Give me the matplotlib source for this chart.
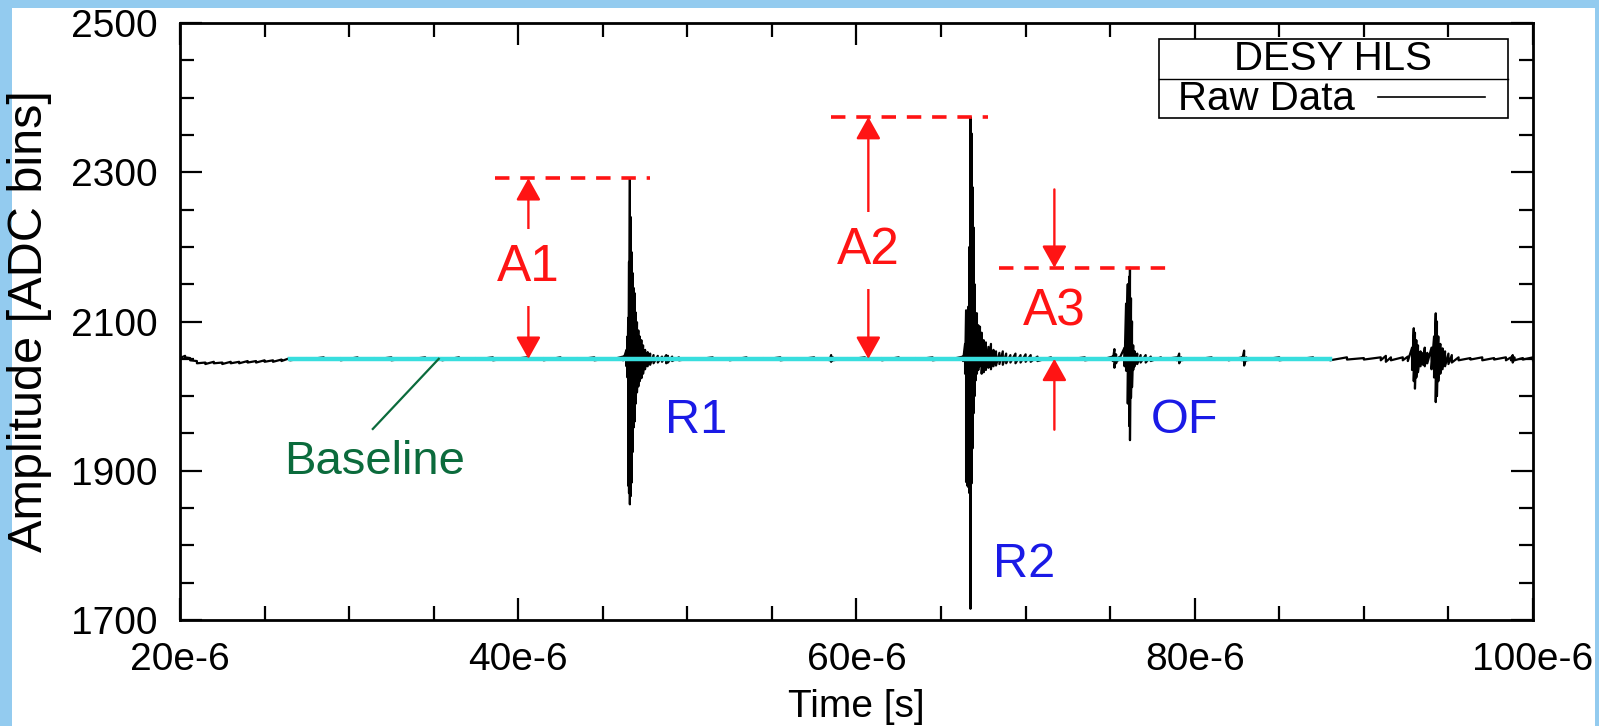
import numpy as np
import matplotlib
matplotlib.use('Agg')
import matplotlib.pyplot as plt
from matplotlib.patches import Rectangle
from matplotlib.lines import Line2D

plt.rcParams['font.family'] = ['Liberation Sans', 'DejaVu Sans']

## raw trace: (time [us], max, min) per sample
lead = [(20.0, 2053, 2051), (20.3, 2054, 2052), (20.6, 2051, 2048), (21.0, 2047, 2044),
        (21.5, 2045, 2043), (22.0, 2046, 2044), (22.5, 2045, 2043), (23.0, 2046, 2044),
        (23.5, 2046, 2044), (24.0, 2047, 2045), (24.5, 2047, 2045), (25.0, 2048, 2046),
        (25.5, 2048, 2046), (26.0, 2049, 2047)]
quiet1 = [(26.5, 2051, 2048), (27.5, 2051, 2049), (28.5, 2052, 2049), (29.5, 2051, 2048),
          (30.5, 2052, 2049), (31.5, 2051, 2049), (32.5, 2052, 2048), (33.5, 2051, 2049),
          (34.5, 2052, 2049), (35.5, 2051, 2048), (36.5, 2052, 2049), (37.5, 2051, 2049),
          (38.5, 2052, 2048), (39.5, 2051, 2049), (40.5, 2052, 2049), (41.5, 2051, 2048),
          (42.5, 2052, 2049), (43.5, 2051, 2049), (44.5, 2052, 2048), (45.5, 2051, 2049),
          (46.2, 2053, 2048)]
r1 = [(46.40, 2062, 2040), (46.46, 2080, 2025), (46.50, 2105, 1880), (46.55, 2180, 1870),
      (46.60, 2292, 1855), (46.65, 2240, 1866), (46.70, 2193, 1884), (46.76, 2165, 1925),
      (46.82, 2145, 1958), (46.88, 2138, 1966), (46.95, 2112, 1990), (47.02, 2099, 2005),
      (47.10, 2088, 2013), (47.18, 2080, 2020), (47.28, 2075, 2024), (47.38, 2068, 2030),
      (47.50, 2062, 2036), (47.65, 2059, 2040), (47.80, 2057, 2042), (48.00, 2055, 2044),
      (48.25, 2054, 2045), (48.50, 2053, 2046), (48.75, 2055, 2044), (48.85, 2054, 2045),
      (49.10, 2053, 2047), (49.50, 2052, 2048)]
quiet2 = [(50.5, 2051, 2049), (51.5, 2052, 2049), (52.5, 2051, 2048), (53.5, 2052, 2049),
          (54.5, 2051, 2049), (55.5, 2052, 2048), (56.5, 2051, 2049), (57.5, 2052, 2049),
          (58.4, 2051, 2048), (58.5, 2055, 2046), (58.6, 2052, 2048), (59.5, 2051, 2049),
          (60.5, 2052, 2049), (61.5, 2051, 2048), (62.5, 2052, 2049), (63.5, 2051, 2049),
          (64.5, 2052, 2048), (65.5, 2051, 2049), (66.3, 2053, 2047)]
r2 = [(66.42, 2070, 2030), (66.48, 2115, 1885), (66.55, 2110, 1880), (66.62, 2120, 1878),
      (66.68, 2200, 1870), (66.74, 2374, 1715), (66.80, 2352, 1883), (66.86, 2280, 1930),
      (66.92, 2226, 1977), (66.98, 2150, 2000), (67.04, 2111, 2021), (67.12, 2111, 2030),
      (67.20, 2095, 2035), (67.30, 2093, 2040), (67.40, 2085, 2030), (67.52, 2075, 2032),
      (67.65, 2072, 2035), (67.80, 2066, 2038), (67.95, 2070, 2036), (68.10, 2062, 2040),
      (68.25, 2060, 2041), (68.45, 2058, 2043), (68.65, 2060, 2042), (68.85, 2057, 2044),
      (69.10, 2055, 2045), (69.40, 2057, 2044), (69.70, 2055, 2045), (70.00, 2056, 2046),
      (70.30, 2055, 2046), (70.70, 2053, 2047)]
mid = [(71.5, 2052, 2049), (72.5, 2051, 2049), (73.5, 2052, 2048), (74.5, 2051, 2049),
       (75.15, 2053, 2047), (75.25, 2063, 2038), (75.35, 2056, 2044), (75.5, 2052, 2048)]
of = [(75.85, 2065, 2040), (75.94, 2124, 2034), (76.04, 2150, 1990), (76.12, 2160, 1960),
      (76.17, 2172, 1941), (76.23, 2131, 1998), (76.29, 2100, 2012), (76.36, 2068, 2035),
      (76.45, 2060, 2040), (76.60, 2057, 2043), (76.80, 2055, 2045), (77.10, 2055, 2045),
      (77.40, 2053, 2047)]
quiet3 = [(78.0, 2052, 2049), (78.95, 2052, 2048), (79.08, 2057, 2044), (79.2, 2052, 2048),
          (80.0, 2051, 2049), (81.0, 2052, 2049), (82.0, 2051, 2048), (82.8, 2052, 2048),
          (82.92, 2061, 2041), (83.05, 2052, 2048), (84.0, 2051, 2049), (85.0, 2052, 2048),
          (86.0, 2051, 2049), (87.0, 2052, 2049), (88.0, 2051, 2048), (89.0, 2052, 2049),
          (90.0, 2051, 2049), (91.0, 2052, 2048), (91.3, 2054, 2046), (91.6, 2052, 2048),
          (92.3, 2052, 2048), (92.6, 2053, 2047)]
far = [(92.85, 2065, 2035), (92.95, 2091, 2020), (93.02, 2085, 2010), (93.10, 2075, 2025),
       (93.20, 2068, 2032), (93.35, 2060, 2040), (93.50, 2058, 2042), (93.60, 2065, 2040),
       (93.75, 2058, 2044), (94.00, 2065, 2036), (94.15, 2080, 2025), (94.25, 2111, 1992),
       (94.32, 2100, 2000), (94.40, 2080, 2020), (94.52, 2070, 2030), (94.65, 2064, 2036),
       (94.80, 2060, 2040), (95.00, 2057, 2043), (95.20, 2055, 2045)]
tail = [(95.6, 2052, 2048), (96.3, 2051, 2049), (97.0, 2052, 2048), (97.7, 2051, 2049),
        (98.4, 2052, 2048), (98.7, 2052, 2048), (98.8, 2055, 2045), (98.9, 2052, 2048),
        (99.4, 2051, 2049), (100.0, 2052, 2048)]

baseline_level = 2050
baseline_span = (26.5, 88.0)  # us

amp_names = ['A1', 'A2', 'A3']
amp_levels = [2292, 2374, 2172]
amp_spans = [(38.6, 47.8), (58.5, 67.8), (68.4, 78.7)]
amp_arrow_x = [40.6, 60.7, 71.7]
amp_label_y = [2172, 2195, 2113]

peak_names = ['R1', 'R2', 'OF']
peak_pos = [(50.5, 1968), (69.9, 1774), (79.4, 1968)]

xtick_vals = [20, 40, 60, 80, 100]
xtick_labels = ['20e-6', '40e-6', '60e-6', '80e-6', '100e-6']
ytick_vals = [1700, 1900, 2100, 2300, 2500]

raw = np.array(lead + quiet1 + r1 + quiet2 + r2 + mid + of + quiet3 + far + tail)
t_s = np.repeat(raw[:, 0], 2) * 1e-6
v = np.column_stack([raw[:, 1], raw[:, 2]]).ravel()

fig = plt.figure(figsize=(15.99, 7.26), dpi=100)
fig.patch.set_facecolor('#93cbef')
fig.patches.append(Rectangle((12/1599, 0), (1595-12)/1599, 1 - 8/726,
                             transform=fig.transFigure, facecolor='white',
                             edgecolor='none', zorder=-5))
ax = fig.add_axes([180/1599, 1 - 620/726, 1353/1599, 597/726])
ax.set_zorder(2)

ax.plot(t_s, v, color='k', lw=1.6, zorder=3)
ax.plot(np.array(baseline_span) * 1e-6, [baseline_level]*2, color='#38dede',
        lw=3.2, zorder=4)

red = '#ff1414'
for name, lvl, span, ax_x, ly in zip(amp_names, amp_levels, amp_spans, amp_arrow_x, amp_label_y):
    ax.plot(np.array(span) * 1e-6, [lvl, lvl], color=red, lw=2.6,
            linestyle=(0, (4.0, 3.0)), zorder=5)
    ap = dict(arrowstyle='-|>,head_length=0.75,head_width=0.42', color=red, lw=1.7,
              mutation_scale=18, shrinkA=0, shrinkB=0)
    if name == 'A3':
        ax.annotate('', xy=(ax_x*1e-6, lvl), xytext=(ax_x*1e-6, 2277), arrowprops=ap, zorder=5)
        ax.annotate('', xy=(ax_x*1e-6, baseline_level), xytext=(ax_x*1e-6, 1955),
                    arrowprops=ap, zorder=5)
        ax.text(ax_x*1e-6, ly, name, color=red, fontsize=37, ha='center', va='center', zorder=6)
    else:
        ax.annotate('', xy=(ax_x*1e-6, lvl), xytext=(ax_x*1e-6, ly), arrowprops=ap, zorder=5)
        ax.annotate('', xy=(ax_x*1e-6, baseline_level), xytext=(ax_x*1e-6, ly),
                    arrowprops=ap, zorder=5)
        ax.text(ax_x*1e-6, ly, name, color=red, fontsize=37, ha='center', va='center',
                zorder=6, bbox=dict(facecolor='white', edgecolor='none', pad=10))

for name, (px, py) in zip(peak_names, peak_pos):
    ax.text(px*1e-6, py, name, color='#1a1ae6', fontsize=35, ha='center', va='center', zorder=6)

green = '#0b6b3c'
ax.plot([31.4e-6, 35.3e-6], [1956, baseline_level], color=green, lw=1.6, zorder=5)
ax.text(31.5e-6, 1912, 'Baseline', color=green, fontsize=34, ha='center', va='center', zorder=6)

# legend box
ax.add_patch(Rectangle((0.7236, 0.8409), 0.9815 - 0.7236, 0.9732 - 0.8409,
                       transform=ax.transAxes, facecolor='white', edgecolor='k',
                       lw=1.2, zorder=7))
ax.add_line(Line2D([0.7236, 0.9815], [0.9062, 0.9062], transform=ax.transAxes,
                   color='k', lw=1.0, zorder=8))
ax.text(0.852, 0.9405, 'DESY HLS', transform=ax.transAxes, fontsize=29,
        ha='center', va='center', zorder=8)
ax.text(0.7376, 0.872, 'Raw Data', transform=ax.transAxes, fontsize=29,
        ha='left', va='center', zorder=8)
ax.add_line(Line2D([0.8854, 0.9645], [0.876, 0.876], transform=ax.transAxes,
                   color='k', lw=1.2, zorder=8))

ax.set_xlim(20e-6, 100e-6)
ax.set_ylim(1700, 2500)
ax.set_xticks([x*1e-6 for x in xtick_vals])
ax.set_xticklabels(xtick_labels)
ax.set_xticks(np.arange(20, 101, 5)*1e-6, minor=True)
ax.set_yticks(ytick_vals)
ax.set_yticks(np.arange(1700, 2501, 50), minor=True)
ax.tick_params(which='both', direction='in', top=True, right=True, width=1.6,
               labelsize=28, colors='k')
ax.tick_params(which='major', length=16, pad=16)
ax.tick_params(which='minor', length=10)
for s in ax.spines.values():
    s.set_linewidth(2.0)

ax.set_xlabel('Time [s]', fontsize=28, va='center')
ax.set_ylabel('Amplitude [ADC bins]', fontsize=35, va='center')
ax.yaxis.set_label_coords(-0.111, 0.5)
ax.xaxis.set_label_coords(0.5, -0.145)

fig.savefig('out.png', dpi=100, facecolor=fig.get_facecolor())
